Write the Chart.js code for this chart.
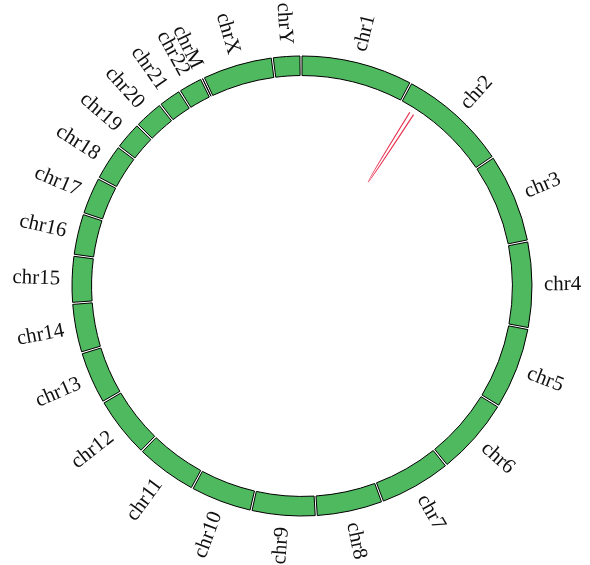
<!DOCTYPE html>
<html>
<head>
<meta charset="utf-8">
<script src="https://cdn.jsdelivr.net/npm/chart.js@4/dist/chart.umd.min.js"></script>
<style>
  html, body { margin: 0; padding: 0; background: #ffffff; }
  #wrap { width: 590px; height: 565px; }
</style>
</head>
<body>
<div id="wrap"><canvas id="ring" width="590" height="565"></canvas></div>
<script>
// Chromosomes of the karyotype, in drawing order (clockwise from the top)
const chromosomes = ['chr1', 'chr2', 'chr3', 'chr4', 'chr5', 'chr6', 'chr7', 'chr8', 'chr9', 'chr10',
  'chr11', 'chr12', 'chr13', 'chr14', 'chr15', 'chr16', 'chr17', 'chr18', 'chr19', 'chr20',
  'chr21', 'chr22', 'chrM', 'chrX', 'chrY'];

// Chromosome lengths in megabases
const lengthsMb = [249.25, 243.20, 198.02, 191.15, 180.92, 171.12, 159.14, 146.36, 141.21, 135.53,
  135.01, 133.85, 115.17, 107.35, 102.53, 90.35, 81.20, 78.08, 59.13, 63.03,
  48.13, 51.30, 0.0166, 155.27, 59.37];

// Empty stretch left after every chromosome, in megabases
const gapMb = 4.6;

// Link between two positions (Mb) on the genome
const linkFrom = { chr: 'chr2', pos: 30 };
const linkTo = { chr: 'chr2', pos: 41 };

const ringColor = '#4fb95f';
const linkColor = '#e8304f';

// Ring slices: each chromosome followed by an invisible spacer slice
const sliceValues = [];
const sliceFill = [];
const sliceBorder = [];
lengthsMb.forEach(v => {
  sliceValues.push(v, gapMb);
  sliceFill.push(ringColor, 'rgba(0,0,0,0)');
  sliceBorder.push(1, 0);
});

// Arc element of a chromosome (spacers sit at odd indices)
function chromArc(meta, i) {
  return meta.data[i * 2];
}

// Convert a genomic position to a canvas angle using the arc drawn for that chromosome
function positionAngle(meta, chr, pos) {
  const idx = chromosomes.indexOf(chr);
  const arc = chromArc(meta, idx);
  const frac = pos / lengthsMb[idx];
  return arc.startAngle + (arc.endAngle - arc.startAngle) * frac;
}

const ringDecor = {
  id: 'ringDecor',
  afterDatasetsDraw(chart) {
    const ctx = chart.ctx;
    const meta = chart.getDatasetMeta(0);
    const first = chromArc(meta, 0);
    const cx = first.x, cy = first.y;
    const outerR = first.outerRadius, innerR = first.innerRadius;

    // link curve drawn inside the ring
    const a1 = positionAngle(meta, linkFrom.chr, linkFrom.pos);
    const a2 = positionAngle(meta, linkTo.chr, linkTo.pos);
    const rEnd = innerR - 6;
    const rCtl = innerR * 0.2;
    const am = (a1 + a2) / 2;
    ctx.save();
    ctx.strokeStyle = linkColor;
    ctx.lineWidth = 1.2;
    ctx.beginPath();
    ctx.moveTo(cx + rEnd * Math.cos(a1), cy + rEnd * Math.sin(a1));
    ctx.quadraticCurveTo(cx + rCtl * Math.cos(am), cy + rCtl * Math.sin(am),
      cx + rEnd * Math.cos(a2), cy + rEnd * Math.sin(a2));
    ctx.stroke();
    ctx.restore();

    // chromosome names around the ring
    const labelR = outerR + 12;
    ctx.save();
    ctx.font = '21px "Liberation Serif", "Times New Roman", serif';
    ctx.fillStyle = '#111111';
    ctx.textBaseline = 'middle';
    chromosomes.forEach((name, i) => {
      const arc = chromArc(meta, i);
      const mid = (arc.startAngle + arc.endAngle) / 2;
      let deg = (mid * 180 / Math.PI + 90) % 360;
      if (deg < 0) deg += 360;
      ctx.save();
      ctx.translate(cx, cy);
      if (deg < 180) {
        ctx.rotate(mid);
        ctx.textAlign = 'left';
        ctx.fillText(name, labelR, 0);
      } else {
        ctx.rotate(mid + Math.PI);
        ctx.textAlign = 'right';
        ctx.fillText(name, -labelR, 0);
      }
      ctx.restore();
    });
    ctx.restore();
  }
};

new Chart(document.getElementById('ring'), {
  type: 'doughnut',
  data: {
    labels: chromosomes.flatMap(c => [c, '']),
    datasets: [{
      data: sliceValues,
      backgroundColor: sliceFill,
      borderColor: '#000000',
      borderWidth: sliceBorder,
      hoverOffset: 0
    }]
  },
  options: {
    responsive: false,
    animation: false,
    radius: 230,
    cutout: '91.5%',
    layout: { padding: { left: 14, right: 0, top: 7, bottom: 0 } },
    plugins: {
      legend: { display: false },
      tooltip: { enabled: false }
    }
  },
  plugins: [ringDecor]
});
</script>
</body>
</html>
